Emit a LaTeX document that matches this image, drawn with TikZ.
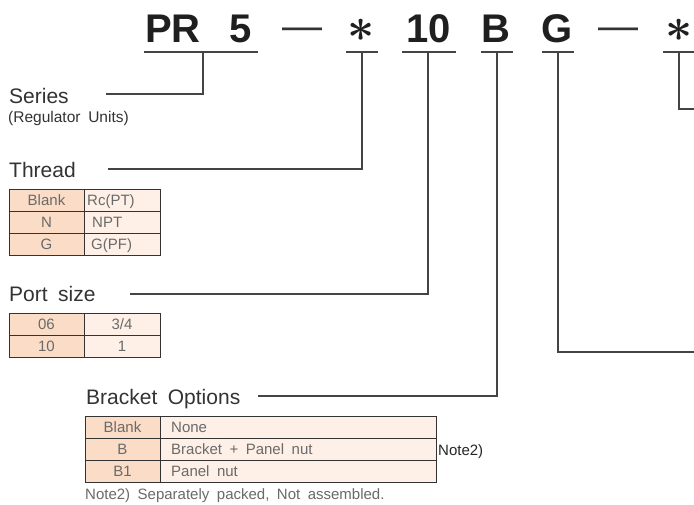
\documentclass[tikz,border=0pt]{standalone}
\usepackage{fontspec}
\usepackage{graphicx}
\setmainfont{Liberation Sans}
\newfontfamily\wfont[WordSpace=1.8]{Liberation Sans}
\definecolor{peachL}{HTML}{FBDCC7}
\definecolor{peachR}{HTML}{FEF0E7}
\definecolor{linec}{HTML}{444444}
\definecolor{lblc}{HTML}{333333}
\definecolor{cellc}{HTML}{6A6A6A}
\newcommand{\bigast}{\scalebox{1.9}{\boldmath$\ast$}}
\tikzset{
  hdr/.style={font=\fontsize{40}{40}\selectfont\bfseries, text=black!88, inner sep=0, anchor=base west},
  hdrdash/.style={font=\fontsize{40}{40}\selectfont, text=black!80, inner sep=0, anchor=base west},
  hdrast/.style={font=\fontsize{24.88}{26}\selectfont, text=black!88, inner sep=0, anchor=base},
  uline/.style={draw=linec, line width=1.1pt},
  conn/.style={draw=linec, line width=1.1pt},
  lbl/.style={font=\wfont\fontsize{21}{21}\selectfont, text=lblc, inner sep=0, anchor=base west},
  sublbl/.style={font=\wfont\fontsize{15.5}{15.5}\selectfont, text=lblc, inner sep=0, anchor=base west},
  cellL/.style={fill=peachL, draw=black!80, line width=0.9pt},
  cellR/.style={fill=peachR, draw=black!80, line width=0.9pt},
  ctxt/.style={font=\wfont\fontsize{15}{15}\selectfont, text=cellc, inner sep=0, anchor=base},
  ctxtl/.style={ctxt, anchor=base west},
  note/.style={font=\wfont\fontsize{15}{15}\selectfont, text=cellc, inner sep=0, anchor=base west}
}
\begin{document}
\begin{tikzpicture}[x=1pt,y=-1pt]
\useasboundingbox[fill=white] (0,0) rectangle (694,504);

% ---------- header ----------
\node[hdr] (pr) at (145,42) {PR};
\node[hdr] (five) at (229,42) {5};
\node[hdrdash] (dash1) at (282,39) {—};
\node[hdrast] (ast1) at (361.5,41) {\bigast};
\node[hdr] (ten) at (406,42) {10};
\node[hdr] (bb) at (481,42) {B};
\node[hdr] (gg) at (541,42) {G};
\node[hdrdash] (dash2) at (598,39) {—};
\node[hdrast] (ast2) at (679,41) {\bigast};

% underlines
\draw[uline] (144,52) -- (258,52);
\draw[uline] (346,52) -- (378,52);
\draw[uline] (402,52) -- (456,52);
\draw[uline] (481,52) -- (513,52);
\draw[uline] (542,52) -- (574,52);
\draw[uline] (663,52) -- (694,52);

% tick coordinates
\coordinate (t1) at (203,52);
\coordinate (t2) at (362,52);
\coordinate (t3) at (428,52);
\coordinate (t4) at (497,52);
\coordinate (t5) at (558,52);
\coordinate (t6) at (679,52);

% ---------- labels ----------
\node[lbl] (series) at (9,103) {Series};
\node[sublbl] (seriessub) at (8,122) {(Regulator Units)};
\node[lbl] (thread) at (9,177) {Thread};
\node[lbl] (port) at (9,301) {Port size};
\node[lbl] (bracket) at (86,404) {Bracket Options};

\coordinate (e1) at (106,94);
\coordinate (e2) at (108,169);
\coordinate (e3) at (130,294);
\coordinate (e4) at (258,396);
\coordinate (e5) at (694,352);
\coordinate (e6) at (694,109);

\draw[conn] (t1) |- (e1);
\draw[conn] (t2) |- (e2);
\draw[conn] (t3) |- (e3);
\draw[conn] (t4) |- (e4);
\draw[conn] (t5) |- (e5);
\draw[conn] (t6) |- (e6);

% ---------- Thread table ----------
\path[cellL] (9,189) rectangle (84,211);
\path[cellR] (84,189) rectangle (160,211);
\path[cellL] (9,211) rectangle (84,233);
\path[cellR] (84,211) rectangle (160,233);
\path[cellL] (9,233) rectangle (84,255);
\path[cellR] (84,233) rectangle (160,255);
\node[ctxt] (th1a) at (46.5,205.4) {Blank};
\node[ctxtl] (th1b) at (87,205.4) {Rc(PT)};
\node[ctxt] (th2a) at (46.5,227.4) {N};
\node[ctxtl] (th2b) at (92,227.4) {NPT};
\node[ctxt] (th3a) at (46.5,249.4) {G};
\node[ctxtl] (th3b) at (91,249.4) {G(PF)};

% ---------- Port size table ----------
\path[cellL] (9,313) rectangle (84,335);
\path[cellR] (84,313) rectangle (160,335);
\path[cellL] (9,335) rectangle (84,357);
\path[cellR] (84,335) rectangle (160,357);
\node[ctxt] (ps1a) at (46.5,329.4) {06};
\node[ctxt] (ps1b) at (122,329.4) {3/4};
\node[ctxt] (ps2a) at (46.5,351.4) {10};
\node[ctxt] (ps2b) at (122,351.4) {1};

% ---------- Bracket table ----------
\path[cellL] (85,416) rectangle (160,438);
\path[cellR] (160,416) rectangle (436,438);
\path[cellL] (85,438) rectangle (160,460);
\path[cellR] (160,438) rectangle (436,460);
\path[cellL] (85,460) rectangle (160,482);
\path[cellR] (160,460) rectangle (436,482);
\node[ctxt] (br1a) at (122.5,432.4) {Blank};
\node[ctxtl] (br1b) at (171,432.4) {None};
\node[ctxt] (br2a) at (122.5,454.4) {B};
\node[ctxtl] (br2b) at (171,454.4) {Bracket + Panel nut};
\node[ctxt] (br3a) at (122.5,476.4) {B1};
\node[ctxtl] (br3b) at (171,476.4) {Panel nut};
\node[note, text=black!85] (note2) at (438,455) {Note2)};
\node[note] (notetxt) at (85,499) {Note2) Separately packed, Not assembled.};
\end{tikzpicture}
\end{document}
